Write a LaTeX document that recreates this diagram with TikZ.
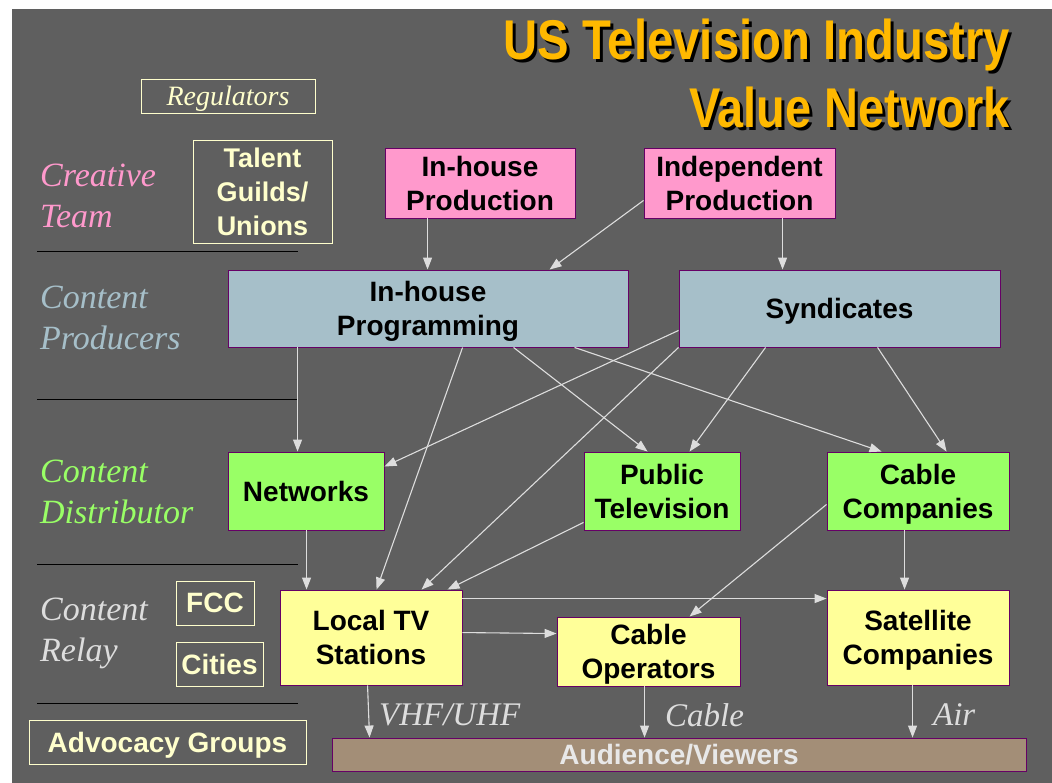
\documentclass[tikz,border=0pt]{standalone}
\usepackage{fontspec}
\setmainfont{Liberation Serif}
\newfontfamily\hvfont{Liberation Sans}
\usetikzlibrary{arrows.meta}

\definecolor{slate}{HTML}{5F5F5F}
\definecolor{cream}{HTML}{FFFFCC}
\definecolor{flowgrey}{HTML}{DDDDDD}
\definecolor{boxedge}{HTML}{660066}
\definecolor{creativepink}{HTML}{FF99CC}
\definecolor{producerblue}{HTML}{A6BFC9}
\definecolor{distgreen}{HTML}{99FF66}
\definecolor{relayyellow}{HTML}{FFFF99}
\definecolor{audbrown}{HTML}{A38E77}
\definecolor{relaygrey}{HTML}{DDDDDD}
\definecolor{titlegold}{HTML}{FFB900}

\begin{document}
\begin{tikzpicture}[x=1pt,y=-1pt,
  box/.style={draw=boxedge, line width=0.9pt, inner sep=0pt, align=center, text=black, text depth=0pt,
    font=\hvfont\bfseries\fontsize{28}{34}\selectfont},
  creambox/.style={draw=cream, line width=0.9pt, inner sep=0pt, align=center, text=cream, text depth=0pt,
    font=\hvfont\bfseries\fontsize{28}{34}\selectfont},
  tier/.style={font=\itshape\fontsize{34}{41}\selectfont, align=left, inner sep=0pt, anchor=base west},
  flow/.style={draw=flowgrey, line width=1.1pt, -{Triangle[length=12pt,width=9pt]}},
  medium/.style={font=\itshape\fontsize{33}{40}\selectfont, text=flowgrey, inner sep=0pt, anchor=west, yshift=-3pt},
  sep/.style={draw=black, line width=1pt},
  titletext/.style={font=\hvfont\bfseries\fontsize{56}{60}\selectfont, inner sep=0pt, anchor=base east}
]
% canvas
\useasboundingbox (0,0) rectangle (1052,783);
\fill[white] (0,0) rectangle (1052,783);
\fill[slate] (12,9) rectangle (1052,783);

% title with drop shadow
\node[titletext, text=black] (t1s) at (1013,63) {\scalebox{0.844}[1]{US Television Industry}};
\node[titletext, text=titlegold] (t1) at (1010,60) {\scalebox{0.844}[1]{US Television Industry}};
\node[titletext, text=black] (t2s) at (1013,131) {\scalebox{0.838}[1]{Value Network}};
\node[titletext, text=titlegold] (t2) at (1010,128) {\scalebox{0.838}[1]{Value Network}};

% tier labels (anchored on the baseline of their second line) and separators
\node[tier, text=creativepink] (tcreative) at (40,228) {Creative\\Team};
\node[tier, text=producerblue] (tproducer) at (40,350) {Content\\Producers};
\node[tier, text=distgreen] (tdist) at (40,523) {Content\\Distributor};
\node[tier, text=relaygrey] (trelay) at (40,661) {Content\\Relay};
\draw[sep] (37,252) -- (298,252);
\draw[sep] (37,399) -- (298,399);
\draw[sep] (37,564) -- (298,564);
\draw[sep] (37,703) -- (298,703);

% outside influences
\node[creambox, minimum width=174pt, minimum height=34pt, font=\itshape\fontsize{28}{32}\selectfont] (regul) at (228,96) {Regulators};
\node[creambox, minimum width=139pt, minimum height=103pt, font=\hvfont\bfseries\fontsize{27}{34}\selectfont] (talent) at (262.5,191.5) {Talent\\Guilds/\\Unions};
\node[creambox, minimum width=78pt, minimum height=44pt] (fcc) at (215,603) {FCC};
\node[creambox, minimum width=87pt, minimum height=44pt] (cities) at (219.5,664) {Cities};
\node[creambox, minimum width=277pt, minimum height=44pt] (advoc) at (167.5,742) {Advocacy Groups};

% value chain
\node[box, fill=creativepink, minimum width=190pt, minimum height=70pt] (inprod) at (480,183) {In-house\\Production};
\node[box, fill=creativepink, minimum width=191pt, minimum height=70pt] (indprod) at (739.5,183) {Independent\\Production};
\node[box, fill=producerblue, minimum width=400pt, minimum height=77pt] (inprog) at (428,308.5) {In-house\\Programming};
\node[box, fill=producerblue, minimum width=321pt, minimum height=77pt] (synd) at (839.5,308.5) {Syndicates};
\node[box, fill=distgreen, minimum width=156pt, minimum height=78pt] (netw) at (306,491) {Networks};
\node[box, fill=distgreen, minimum width=156pt, minimum height=78pt] (pubtv) at (662,491) {Public\\Television};
\node[box, fill=distgreen, minimum width=182pt, minimum height=78pt] (cablecos) at (918,491) {Cable\\Companies};
\node[box, fill=relayyellow, minimum width=182pt, minimum height=95pt] (localtv) at (371,637.5) {Local TV\\Stations};
\node[box, fill=relayyellow, minimum width=183pt, minimum height=69pt] (cableops) at (648.5,651.5) {Cable\\Operators};
\node[box, fill=relayyellow, minimum width=182pt, minimum height=95pt] (sat) at (918,637.5) {Satellite\\Companies};
\node[box, fill=audbrown, text=white!91!black, minimum width=694pt, minimum height=33pt] (aud) at (679,754.5) {Audience/Viewers};

% flows
\draw[flow] ([xshift=43pt]inprod.south west) -- ([xshift=200pt]inprog.north west);
\draw[flow] ([yshift=18pt]indprod.south west) -- ([xshift=322pt]inprog.north west);
\draw[flow] ([xshift=139pt]indprod.south west) -- ([xshift=104pt]synd.north west);
\draw[flow] ([xshift=70pt]inprog.south west) -- ([xshift=70pt]netw.north west);
\draw[flow] ([xshift=235pt]inprog.south west) -- ([xshift=97pt]localtv.north west);
\draw[flow] ([xshift=286pt]inprog.south west) -- ([xshift=64pt]pubtv.north west);
\draw[flow] ([xshift=347pt]inprog.south west) -- ([xshift=55pt]cablecos.north west);
\draw[flow] ([yshift=17pt]synd.south west) -- ([yshift=-15pt]netw.north east);
\draw[flow] (synd.south west) -- ([xshift=142pt]localtv.north west);
\draw[flow] ([xshift=87pt]synd.south west) -- ([xshift=106pt]pubtv.north west);
\draw[flow] ([xshift=199pt]synd.south west) -- ([xshift=120pt]cablecos.north west);
\draw[flow] ([xshift=79pt]netw.south west) -- ([xshift=27pt]localtv.north west);
\draw[flow] ([yshift=8pt]pubtv.south west) -- ([xshift=168pt]localtv.north west);
\draw[flow] ([yshift=26pt]cablecos.south west) -- ([xshift=133pt]cableops.north west);
\draw[flow] ([xshift=78pt]cablecos.south west) -- ([xshift=78pt]sat.north west);
\draw[flow] ([yshift=-9pt]localtv.north east) -- ([yshift=-9pt]sat.north west);
\draw[flow] ([yshift=-43pt]localtv.north east) -- ([yshift=-17pt]cableops.north west);
\draw[flow] ([xshift=88pt]localtv.south west) -- node[medium, xshift=10pt] {VHF/UHF} ([xshift=38pt]aud.north west);
\draw[flow] ([xshift=88pt]cableops.south west) -- node[medium, xshift=20pt] {Cable} ([xshift=313pt]aud.north west);
\draw[flow] ([xshift=86pt]sat.south west) -- node[medium, xshift=20pt] {Air} ([xshift=581pt]aud.north west);
\end{tikzpicture}
\end{document}
